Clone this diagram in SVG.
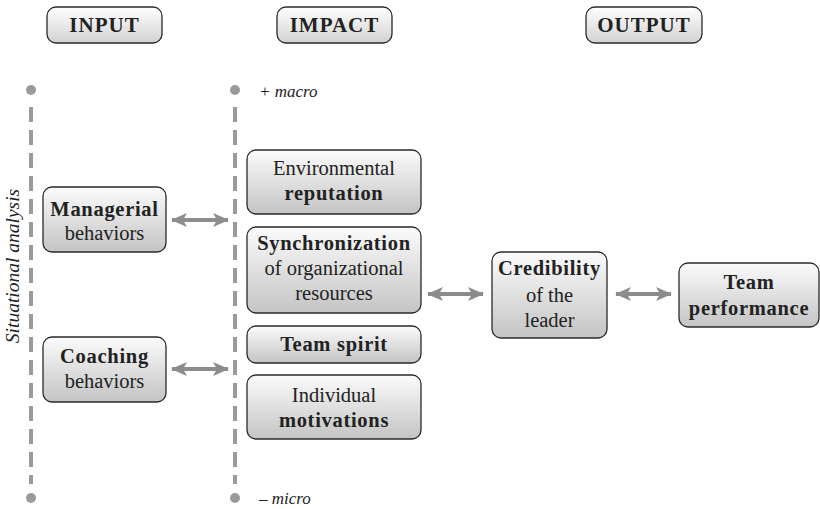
<svg xmlns="http://www.w3.org/2000/svg" width="820" height="509" viewBox="0 0 820 509">
  <defs>
    <linearGradient id="boxFill" x1="0" y1="0" x2="0" y2="1">
      <stop offset="0" stop-color="#fbfbfb"/>
      <stop offset="1" stop-color="#c4c4c4"/>
    </linearGradient>
    <linearGradient id="headFill" x1="0" y1="0" x2="0" y2="1">
      <stop offset="0" stop-color="#ffffff"/>
      <stop offset="1" stop-color="#d2d2d2"/>
    </linearGradient>
    <marker id="head" viewBox="0 0 16 14" refX="15" refY="7" markerWidth="16" markerHeight="14" markerUnits="userSpaceOnUse" orient="auto-start-reverse">
      <path d="M0,0 L16,7 L0,14 L4,7 Z" fill="#8c8c8c"/>
    </marker>
  </defs>
  <style>
    .box { fill: url(#boxFill); stroke: #2a2a2a; stroke-width: 1.3; }
    .hbox { fill: url(#headFill); stroke: #2a2a2a; stroke-width: 1.3; }
    text { fill: #222; text-anchor: middle; }
    .t { font-size: 20.5px; }
    .b { font-size: 20.5px; font-weight: bold; letter-spacing: 0.7px; }
    .h { font-size: 21px; font-weight: bold; letter-spacing: 1px; }
    .i { font-size: 17px; font-style: italic; text-anchor: start; }
    .axis { stroke: #9a9a9a; stroke-width: 4; stroke-dasharray: 15 8; fill: none; }
    .dot { fill: #9a9a9a; }
    .arrow { stroke: #8c8c8c; stroke-width: 4; fill: none; marker-start: url(#head); marker-end: url(#head); }
  </style>

  <g font-family="'Liberation Serif', 'DejaVu Serif', 'Times New Roman', serif">
  <!-- column headers -->
  <g id="header-input">
    <rect class="hbox" x="47" y="7" width="115" height="36" rx="9"/>
    <text class="h" x="104.5" y="32">INPUT</text>
  </g>
  <g id="header-impact">
    <rect class="hbox" x="277" y="7" width="115" height="36" rx="9"/>
    <text class="h" x="334.5" y="32">IMPACT</text>
  </g>
  <g id="header-output">
    <rect class="hbox" x="586" y="7" width="116" height="36" rx="9"/>
    <text class="h" x="644" y="32">OUTPUT</text>
  </g>

  <!-- axes -->
  <g id="axis-situational">
    <line class="axis" x1="31" y1="107" x2="31" y2="484"/>
    <circle class="dot" cx="31" cy="90" r="5"/>
    <circle class="dot" cx="31" cy="498" r="5"/>
    <text class="i" x="0" y="0" transform="translate(19,266) rotate(-90)" style="text-anchor:middle; font-size:19.5px">Situational analysis</text>
  </g>
  <g id="axis-scale">
    <line class="axis" x1="235" y1="107" x2="235" y2="484"/>
    <circle class="dot" cx="235" cy="90" r="5"/>
    <circle class="dot" cx="235" cy="498" r="5"/>
    <text class="i" x="259" y="97">+ macro</text>
    <text class="i" x="259" y="504">– micro</text>
  </g>

  <!-- input nodes -->
  <g id="managerial">
    <rect class="box" x="43" y="187" width="123" height="65" rx="9"/>
    <text class="b" x="104.5" y="216">Managerial</text>
    <text class="t" x="104.5" y="240">behaviors</text>
  </g>
  <g id="coaching">
    <rect class="box" x="43" y="337" width="123" height="65" rx="9"/>
    <text class="b" x="104.5" y="363">Coaching</text>
    <text class="t" x="104.5" y="388">behaviors</text>
  </g>

  <!-- impact nodes -->
  <g id="reputation">
    <rect class="box" x="247" y="150" width="174" height="64" rx="9"/>
    <text class="t" x="334" y="175">Environmental</text>
    <text class="b" x="334" y="200">reputation</text>
  </g>
  <g id="synchronization">
    <rect class="box" x="247" y="227" width="174" height="86" rx="9"/>
    <text class="b" x="334" y="250">Synchronization</text>
    <text class="t" x="334" y="275">of organizational</text>
    <text class="t" x="334" y="300">resources</text>
  </g>
  <g id="team-spirit">
    <rect class="box" x="247" y="326" width="174" height="37" rx="9"/>
    <text class="b" x="334" y="351">Team spirit</text>
  </g>
  <g id="motivations">
    <rect class="box" x="247" y="375" width="174" height="64" rx="9"/>
    <text class="t" x="334" y="402">Individual</text>
    <text class="b" x="334" y="427">motivations</text>
  </g>

  <!-- output nodes -->
  <g id="credibility">
    <rect class="box" x="492" y="252" width="115" height="86" rx="9"/>
    <text class="b" x="549.5" y="275">Credibility</text>
    <text class="t" x="549.5" y="302">of the</text>
    <text class="t" x="549.5" y="327">leader</text>
  </g>
  <g id="team-performance">
    <rect class="box" x="679" y="263" width="140" height="64" rx="9"/>
    <text class="b" x="749" y="289">Team</text>
    <text class="b" x="749" y="315">performance</text>
  </g>
  </g>

  <!-- connectors -->
  <g id="connectors">
    <line class="arrow" x1="172" y1="220" x2="228" y2="220"/>
    <line class="arrow" x1="172" y1="369" x2="228" y2="369"/>
    <line class="arrow" x1="428" y1="294" x2="483" y2="294"/>
    <line class="arrow" x1="616" y1="294" x2="671" y2="294"/>
  </g>
</svg>
